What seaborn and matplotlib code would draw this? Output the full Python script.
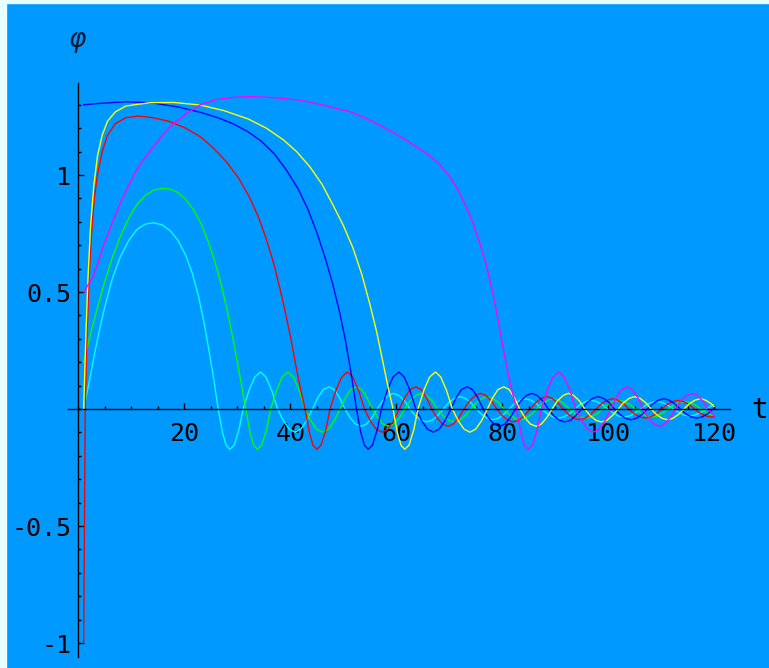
import numpy as np
import pandas as pd
import matplotlib
matplotlib.use("Agg")
import matplotlib.pyplot as plt
from matplotlib.patches import Rectangle
from matplotlib.ticker import FixedLocator, FixedFormatter, MultipleLocator
import seaborn as sns

# values: (t, phi) for each coloured curve
# first part: the rise / plateau / fall, second part: the ringing around 0
cyan_t = [1, 2, 3, 4, 4.7, 6.3, 7.9, 9.5, 11, 12.6, 14.2, 15.8, 17.3, 18.8, 20.2, 21.5, 22.7, 23.8, 24.8, 25.6,
          26.4, 27.2, 27.9, 28.6, 29.4, 30.3,
          31.1, 32.2, 33.3, 34.4, 35.4, 36.5,
          37.6, 38.7, 39.8, 40.9, 42.0, 43.1,
          44.2, 45.2, 46.2, 47.3, 48.3, 49.3,
          50.3, 51.3, 52.3, 53.4, 54.4, 55.4,
          56.4, 57.4, 58.5, 59.5, 60.5, 61.6,
          62.6, 63.6, 64.7, 65.7, 66.8, 67.8,
          68.9, 69.9, 71.0, 72.0, 73.0, 74.1,
          75.1, 76.1, 77.2, 78.2, 79.2, 80.3,
          81.3, 82.3, 83.4, 84.4, 85.4, 86.5,
          87.5, 88.5, 89.6, 90.6, 91.6, 92.7,
          93.7, 94.7, 95.8, 96.8, 97.8, 98.9,
          99.9, 100.9, 102.0, 103.0, 104.0, 105.1,
          106.1, 107.1, 108.2, 109.2, 110.2, 111.3,
          112.3, 113.3, 114.4, 115.4, 116.4, 117.5,
          118.5, 119.5, 120.0]
cyan_phi = [0, 0.11, 0.23, 0.34, 0.41, 0.55, 0.65, 0.72, 0.766, 0.79, 0.796, 0.787, 0.763, 0.72, 0.66, 0.58, 0.48, 0.36, 0.23, 0.12,
            0, -0.1, -0.155, -0.172, -0.155, -0.09,
            0, 0.079, 0.137, 0.158, 0.137, 0.079,
            0, -0.05, -0.086, -0.099, -0.086, -0.05,
            0, 0.048, 0.083, 0.095, 0.083, 0.048,
            0, -0.037, -0.064, -0.074, -0.064, -0.037,
            0, 0.034, 0.058, 0.067, 0.058, 0.034,
            0, -0.028, -0.048, -0.055, -0.048, -0.028,
            0, 0.027, 0.046, 0.053, 0.046, 0.027,
            0, -0.023, -0.04, -0.046, -0.04, -0.023,
            0, 0.022, 0.038, 0.044, 0.038, 0.022,
            0, -0.02, -0.034, -0.039, -0.034, -0.02,
            0, 0.019, 0.032, 0.037, 0.032, 0.019,
            0, -0.017, -0.03, -0.034, -0.03, -0.017,
            0, 0.016, 0.028, 0.032, 0.028, 0.016,
            0, -0.015, -0.026, -0.03, -0.026, -0.015,
            0, 0.014, 0.019]

green_t = [1, 2.5, 4.7, 6.3, 7.9, 9.5, 11, 12.6, 14.2, 15.8, 17.3, 18.8, 20.3, 21.8, 23.2, 24.6, 25.9, 27.1, 28.2, 29.2,
           30.1, 30.9,
           31.6, 32.4, 33.1, 33.8, 34.6, 35.5,
           36.3, 37.4, 38.5, 39.6, 40.6, 41.7,
           42.8, 43.9, 45.0, 46.1, 47.2, 48.3,
           49.4, 50.4, 51.4, 52.5, 53.5, 54.5,
           55.5, 56.5, 57.5, 58.6, 59.6, 60.6,
           61.6, 62.6, 63.7, 64.7, 65.7, 66.8,
           67.8, 68.8, 69.9, 70.9, 72.0, 73.0,
           74.1, 75.1, 76.2, 77.2, 78.2, 79.3,
           80.3, 81.3, 82.4, 83.4, 84.4, 85.5,
           86.5, 87.5, 88.6, 89.6, 90.6, 91.7,
           92.7, 93.7, 94.8, 95.8, 96.8, 97.9,
           98.9, 99.9, 101.0, 102.0, 103.0, 104.1,
           105.1, 106.1, 107.2, 108.2, 109.2, 110.3,
           111.3, 112.3, 113.4, 114.4, 115.4, 116.5,
           117.5, 118.5, 119.6, 120.0]
green_phi = [0.2, 0.34, 0.523, 0.64, 0.736, 0.815, 0.872, 0.912, 0.935, 0.943, 0.94, 0.925, 0.895, 0.85, 0.79, 0.71, 0.62, 0.52, 0.41, 0.3,
             0.19, 0.09,
             0, -0.1, -0.155, -0.172, -0.155, -0.09,
             0, 0.079, 0.137, 0.158, 0.137, 0.079,
             0, -0.05, -0.086, -0.099, -0.086, -0.05,
             0, 0.048, 0.083, 0.095, 0.083, 0.048,
             0, -0.037, -0.064, -0.074, -0.064, -0.037,
             0, 0.034, 0.058, 0.067, 0.058, 0.034,
             0, -0.028, -0.048, -0.055, -0.048, -0.028,
             0, 0.027, 0.046, 0.053, 0.046, 0.027,
             0, -0.023, -0.04, -0.046, -0.04, -0.023,
             0, 0.022, 0.038, 0.044, 0.038, 0.022,
             0, -0.02, -0.034, -0.039, -0.034, -0.02,
             0, 0.019, 0.032, 0.037, 0.032, 0.019,
             0, -0.017, -0.03, -0.034, -0.03, -0.017,
             0, 0.016, 0.028, 0.032, 0.028, 0.016,
             0, -0.015, -0.026, -0.028]

red_t = [1, 1.15, 1.3, 1.6, 2.0, 2.5, 3.0, 3.6, 4.5, 5.5, 7, 9, 11.3, 14, 17, 20, 23, 25.5, 28, 30.3, 32.3, 34, 35.5,
         36.9, 38.1, 39.2, 40.2, 41.1, 42.0,
         42.8, 43.6, 44.3, 45.0, 45.8, 46.7,
         47.5, 48.6, 49.7, 50.8, 51.8, 52.9,
         54.0, 55.1, 56.2, 57.3, 58.4, 59.5,
         60.6, 61.6, 62.6, 63.7, 64.7, 65.7,
         66.7, 67.7, 68.7, 69.8, 70.8, 71.8,
         72.8, 73.8, 74.9, 75.9, 76.9, 78.0,
         79.0, 80.0, 81.1, 82.1, 83.2, 84.2,
         85.3, 86.3, 87.4, 88.4, 89.4, 90.5,
         91.5, 92.5, 93.6, 94.6, 95.6, 96.7,
         97.7, 98.7, 99.8, 100.8, 101.8, 102.9,
         103.9, 104.9, 106.0, 107.0, 108.0, 109.1,
         110.1, 111.1, 112.2, 113.2, 114.2, 115.3,
         116.3, 117.3, 118.4, 119.4, 120.0]
red_phi = [-1.0, -0.5, 0, 0.3, 0.55, 0.76, 0.9, 1.0, 1.1, 1.17, 1.22, 1.245, 1.252, 1.245, 1.23, 1.203, 1.164, 1.115, 1.055, 0.985, 0.905, 0.82, 0.725,
           0.62, 0.51, 0.4, 0.29, 0.18, 0.08,
           0, -0.1, -0.155, -0.172, -0.155, -0.09,
           0, 0.079, 0.137, 0.158, 0.137, 0.079,
           0, -0.05, -0.086, -0.099, -0.086, -0.05,
           0, 0.048, 0.083, 0.095, 0.083, 0.048,
           0, -0.037, -0.064, -0.074, -0.064, -0.037,
           0, 0.034, 0.058, 0.067, 0.058, 0.034,
           0, -0.028, -0.048, -0.055, -0.048, -0.028,
           0, 0.027, 0.046, 0.053, 0.046, 0.027,
           0, -0.023, -0.04, -0.046, -0.04, -0.023,
           0, 0.022, 0.038, 0.044, 0.038, 0.022,
           0, -0.02, -0.034, -0.039, -0.034, -0.02,
           0, 0.019, 0.032, 0.037, 0.032, 0.019,
           0, -0.017, -0.03, -0.034, -0.033]

blue_t = [1, 4, 9, 14, 19, 23, 26.3, 29.3, 32, 34.5, 37, 39.3, 41.5, 43.3, 45, 46.6, 48, 49.3, 50.4, 51.5,
          52.5, 53.3, 54.0, 54.7, 55.5, 56.4,
          57.2, 58.3, 59.4, 60.5, 61.5, 62.6,
          63.7, 64.8, 65.9, 67.0, 68.1, 69.2,
          70.3, 71.3, 72.3, 73.4, 74.4, 75.4,
          76.4, 77.4, 78.4, 79.5, 80.5, 81.5,
          82.5, 83.5, 84.6, 85.6, 86.6, 87.7,
          88.7, 89.7, 90.8, 91.8, 92.9, 93.9,
          95.0, 96.0, 97.1, 98.1, 99.1, 100.2,
          101.2, 102.2, 103.3, 104.3, 105.3, 106.4,
          107.4, 108.4, 109.5, 110.5, 111.5, 112.6,
          113.6, 114.6, 115.7, 116.7, 117.7, 118.8,
          119.8, 120.0]
blue_phi = [1.30, 1.306, 1.313, 1.308, 1.29, 1.268, 1.245, 1.218, 1.185, 1.145, 1.09, 1.02, 0.94, 0.855, 0.755, 0.645, 0.535, 0.415, 0.295, 0.15,
            0, -0.1, -0.155, -0.172, -0.155, -0.09,
            0, 0.079, 0.137, 0.158, 0.137, 0.079,
            0, -0.05, -0.086, -0.099, -0.086, -0.05,
            0, 0.048, 0.083, 0.095, 0.083, 0.048,
            0, -0.037, -0.064, -0.074, -0.064, -0.037,
            0, 0.034, 0.058, 0.067, 0.058, 0.034,
            0, -0.028, -0.048, -0.055, -0.048, -0.028,
            0, 0.027, 0.046, 0.053, 0.046, 0.027,
            0, -0.023, -0.04, -0.046, -0.04, -0.023,
            0, 0.022, 0.038, 0.044, 0.038, 0.022,
            0, -0.02, -0.034, -0.039, -0.034, -0.02,
            0, 0.003]

yellow_t = [1, 1.4, 1.8, 2.3, 2.9, 3.6, 4.5, 5.5, 7, 9, 13.5, 18, 23, 27.5, 32, 35.5, 38.7, 41.2, 43.7, 46, 48.1,
            50, 51.8, 53.5, 55, 56.3, 57.4, 58.4,
            59.4, 60.2, 60.9, 61.6, 62.4, 63.3,
            64.1, 65.2, 66.3, 67.4, 68.4, 69.5,
            70.6, 71.7, 72.8, 73.9, 75.0, 76.1,
            77.2, 78.2, 79.2, 80.3, 81.3, 82.3,
            83.3, 84.3, 85.3, 86.4, 87.4, 88.4,
            89.4, 90.4, 91.5, 92.5, 93.5, 94.6,
            95.6, 96.6, 97.7, 98.7, 99.8, 100.8,
            101.9, 102.9, 104.0, 105.0, 106.0, 107.1,
            108.1, 109.1, 110.2, 111.2, 112.2, 113.3,
            114.3, 115.3, 116.4, 117.4, 118.4, 119.5,
            120.0]
yellow_phi = [0, 0.3, 0.55, 0.78, 0.95, 1.08, 1.17, 1.23, 1.27, 1.295, 1.309, 1.31, 1.299, 1.275, 1.24, 1.2, 1.15, 1.1, 1.035, 0.96, 0.87,
              0.785, 0.69, 0.575, 0.45, 0.33, 0.21, 0.1,
              0, -0.1, -0.155, -0.172, -0.155, -0.09,
              0, 0.079, 0.137, 0.158, 0.137, 0.079,
              0, -0.05, -0.086, -0.099, -0.086, -0.05,
              0, 0.048, 0.083, 0.095, 0.083, 0.048,
              0, -0.037, -0.064, -0.074, -0.064, -0.037,
              0, 0.034, 0.058, 0.067, 0.058, 0.034,
              0, -0.028, -0.048, -0.055, -0.048, -0.028,
              0, 0.027, 0.046, 0.053, 0.046, 0.027,
              0, -0.023, -0.04, -0.046, -0.04, -0.023,
              0, 0.022, 0.038, 0.044, 0.038, 0.022,
              0.011]

magenta_t = [1, 2.8, 4.7, 6.3, 7.9, 9.5, 11, 12.6, 14.2, 15.8, 17.3, 20.5, 23, 26, 29.2, 32.4, 36, 41.8, 46, 51.3,
             54.5, 57.5, 60.7, 63.8, 66, 68.2, 70.1, 71.6, 73, 74.5, 75.9, 77.1, 78.1, 78.9, 79.8, 80.6, 81.5,
             82.7, 83.5, 84.2, 84.9, 85.7, 86.6,
             87.4, 88.5, 89.6, 90.7, 91.7, 92.8,
             93.9, 95.0, 96.1, 97.2, 98.3, 99.4,
             100.5, 101.5, 102.5, 103.6, 104.6, 105.6,
             106.6, 107.6, 108.6, 109.7, 110.7, 111.7,
             112.7, 113.7, 114.8, 115.8, 116.8, 117.9,
             118.9, 120.0]
magenta_phi = [0.5, 0.565, 0.694, 0.79, 0.879, 0.955, 1.021, 1.075, 1.121, 1.167, 1.206, 1.264, 1.3, 1.322, 1.332, 1.335, 1.332, 1.32, 1.3, 1.27,
               1.24, 1.206, 1.165, 1.121, 1.088, 1.045, 0.993, 0.94, 0.875, 0.794, 0.7, 0.608, 0.51, 0.42, 0.31, 0.21, 0.11,
               0, -0.1, -0.155, -0.172, -0.155, -0.09,
               0, 0.079, 0.137, 0.158, 0.137, 0.079,
               0, -0.05, -0.086, -0.099, -0.086, -0.05,
               0, 0.048, 0.083, 0.095, 0.083, 0.048,
               0, -0.037, -0.064, -0.074, -0.064, -0.037,
               0, 0.034, 0.058, 0.067, 0.058, 0.034,
               0, -0.029]

curves = {
    "cyan": (cyan_t, cyan_phi),
    "green": (green_t, green_phi),
    "red": (red_t, red_phi),
    "blue": (blue_t, blue_phi),
    "yellow": (yellow_t, yellow_phi),
    "magenta": (magenta_t, magenta_phi),
}
colors = {"cyan": "#00ffff", "green": "#00ff00", "red": "#ff0000",
          "blue": "#0000ff", "yellow": "#ffff00", "magenta": "#ff00ff"}

df = pd.concat([pd.DataFrame({"t": t, "phi": p, "curve": name}) for name, (t, p) in curves.items()],
               ignore_index=True)

bg = "#0099ff"
plt.rcParams["axes.unicode_minus"] = False

fig = plt.figure(figsize=(7.69, 6.68), dpi=100, facecolor=bg)
ax = fig.add_axes([0.0888, 0.016, 0.8605, 0.8597])
ax.set_facecolor(bg)
ax.patch.set_alpha(0)

sns.lineplot(data=df, x="t", y="phi", hue="curve", palette=colors, hue_order=list(curves),
             estimator=None, sort=False, linewidth=1.0, legend=False, ax=ax)

ax.set_xlim(-1.9, 123)
ax.set_ylim(-1.061, 1.393)

for s in ["top", "right"]:
    ax.spines[s].set_visible(False)
ax.spines["left"].set_position(("data", 0))
ax.spines["bottom"].set_position(("data", 0))
for s in ["left", "bottom"]:
    ax.spines[s].set_color("black")
    ax.spines[s].set_linewidth(1.0)

ax.xaxis.set_major_locator(FixedLocator([20, 40, 60, 80, 100, 120]))
ax.xaxis.set_minor_locator(MultipleLocator(5))
ax.yaxis.set_major_locator(FixedLocator([-1, -0.5, 0.5, 1]))
ax.yaxis.set_major_formatter(FixedFormatter(["-1", "-0.5", "0.5", "1"]))
ax.yaxis.set_minor_locator(MultipleLocator(0.1))

ax.tick_params(axis="x", which="major", direction="in", length=4.5, width=1, pad=9, colors="black")
ax.tick_params(axis="x", which="minor", direction="in", length=2.5, width=1, colors="black")
ax.tick_params(axis="y", which="major", direction="in", length=4, width=1, pad=5, colors="black")
ax.tick_params(axis="y", which="minor", direction="in", length=2.5, width=1, colors="black")
for lab in ax.get_xticklabels() + ax.get_yticklabels():
    lab.set_fontfamily("DejaVu Sans Mono")
    lab.set_fontsize(18)

ax.set_xlabel("")
ax.set_ylabel("")

fig.text(760 / 769, 1 - 410 / 668, "t", ha="center", va="center",
         fontsize=20, family="DejaVu Sans Mono", color="black")
fig.text(77 / 769, 1 - 40 / 668, "φ", ha="center", va="center",
         fontsize=19, family="DejaVu Sans", style="italic", color="#0a1a33")

# thin pale strips at the left and top edge of the picture
fig.add_artist(Rectangle((0, 0), 6 / 769, 1, transform=fig.transFigure, color="#e8ffff", zorder=-1))
fig.add_artist(Rectangle((0, 1 - 3 / 668), 1, 3 / 668, transform=fig.transFigure, color="#e8ffff", zorder=-1))

fig.savefig("out.png", dpi=100, facecolor=bg)
